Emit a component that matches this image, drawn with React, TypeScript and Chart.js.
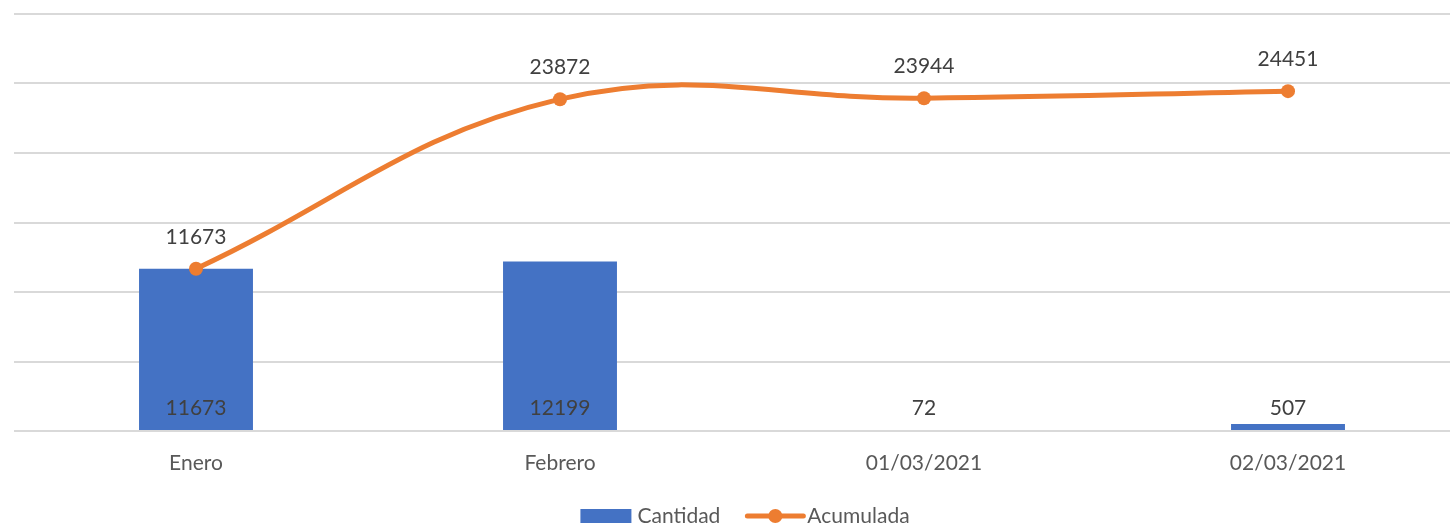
import React, { useEffect, useRef } from "react";
import { Chart, registerables } from "chart.js";

Chart.register(...registerables);

const categories = ["Enero", "Febrero", "01/03/2021", "02/03/2021"];
const cantidad = [11673, 12199, 72, 507];
const acumulada = [11673, 23872, 23944, 24451];
const yTicks = [0, 5000, 10000, 15000, 20000, 25000, 30000];

const BLUE = "#4472C4";
const ORANGE = "#ED7D31";
const FONT = "Lato, 'Open Sans', sans-serif";

const labelsPlugin = {
  id: "customLabels",
  afterDatasetsDraw(chart: any) {
    const ctx = chart.ctx;
    ctx.save();
    ctx.font = `21px ${FONT}`;
    ctx.fillStyle = "#404040";
    ctx.textAlign = "center";
    ctx.textBaseline = "middle";
    const barMeta = chart.getDatasetMeta(0);
    const base = chart.scales.y.getPixelForValue(0);
    barMeta.data.forEach((el: any, i: number) => {
      ctx.fillText(String(cantidad[i]), el.x, base - 23);
    });
    const lineMeta = chart.getDatasetMeta(1);
    lineMeta.data.forEach((el: any, i: number) => {
      ctx.fillText(String(acumulada[i]), el.x, el.y - 32);
    });
    ctx.restore();
  },
  afterDraw(chart: any) {
    const ctx = chart.ctx;
    ctx.save();
    ctx.font = `21px ${FONT}`;
    ctx.textBaseline = "middle";
    ctx.textAlign = "left";
    const t1 = "Cantidad";
    const t2 = "Acumulada";
    const w1 = ctx.measureText(t1).width;
    const w2 = ctx.measureText(t2).width;
    const rectW = 51;
    const lineW = 56;
    const gap1 = 6;
    const gap2 = 27;
    const total = rectW + gap1 + w1 + gap2 + lineW + 4 + w2;
    let x = 745 - total / 2;
    const y = 516;
    ctx.fillStyle = BLUE;
    ctx.fillRect(x, y - 7, rectW, 14);
    x += rectW + gap1;
    ctx.fillStyle = "#595959";
    ctx.fillText(t1, x, y);
    x += w1 + gap2;
    ctx.strokeStyle = ORANGE;
    ctx.lineWidth = 5;
    ctx.lineCap = "round";
    ctx.beginPath();
    ctx.moveTo(x, y);
    ctx.lineTo(x + lineW, y);
    ctx.stroke();
    ctx.fillStyle = ORANGE;
    ctx.beginPath();
    ctx.arc(x + lineW / 2, y, 7, 0, Math.PI * 2);
    ctx.fill();
    x += lineW + 4;
    ctx.fillStyle = "#595959";
    ctx.fillText(t2, x, y);
    ctx.restore();
  },
};

export default function App() {
  const ref = useRef<HTMLCanvasElement | null>(null);
  useEffect(() => {
    if (!ref.current) return;
    const chart = new Chart(ref.current, {
      type: "bar",
      data: {
        labels: categories,
        datasets: [
          {
            type: "bar",
            label: "Cantidad",
            data: cantidad,
            backgroundColor: BLUE,
            barPercentage: 0.313,
            categoryPercentage: 1,
            order: 1,
          },
          {
            type: "line",
            label: "Acumulada",
            data: acumulada,
            borderColor: ORANGE,
            backgroundColor: ORANGE,
            borderWidth: 5,
            pointRadius: 7,
            pointBackgroundColor: ORANGE,
            pointBorderWidth: 0,
            tension: 0.4,
            order: 0,
          } as any,
        ],
      },
      options: {
        animation: false,
        responsive: false,
        maintainAspectRatio: false,
        layout: { padding: { left: 14, top: 14, right: 0, bottom: 0 } },
        plugins: {
          legend: { display: false },
          tooltip: { enabled: false },
        },
        scales: {
          x: {
            grid: { display: false, drawTicks: false },
            border: { display: false },
            ticks: {
              color: "#595959",
              font: { family: FONT, size: 21 },
              padding: 20,
              maxRotation: 0,
            },
            afterFit: (s: any) => {
              s.height = 94;
            },
          },
          y: {
            min: 0,
            max: 30000,
            afterBuildTicks: (s: any) => {
              s.ticks = yTicks.map((v) => ({ value: v }));
            },
            grid: { color: "#d9d9d9", lineWidth: 2, drawTicks: false },
            border: { display: false },
            ticks: { display: false },
            afterFit: (s: any) => {
              s.width = 0;
            },
          },
        },
      },
      plugins: [labelsPlugin],
    });
    return () => chart.destroy();
  }, []);
  return (
    <div
      style={{
        position: "fixed",
        left: 0,
        top: 0,
        width: 1450,
        height: 525,
        overflow: "hidden",
        background: "#fff",
      }}
    >
      <canvas ref={ref} width={1477} height={525} style={{ display: "block" }} />
    </div>
  );
}
